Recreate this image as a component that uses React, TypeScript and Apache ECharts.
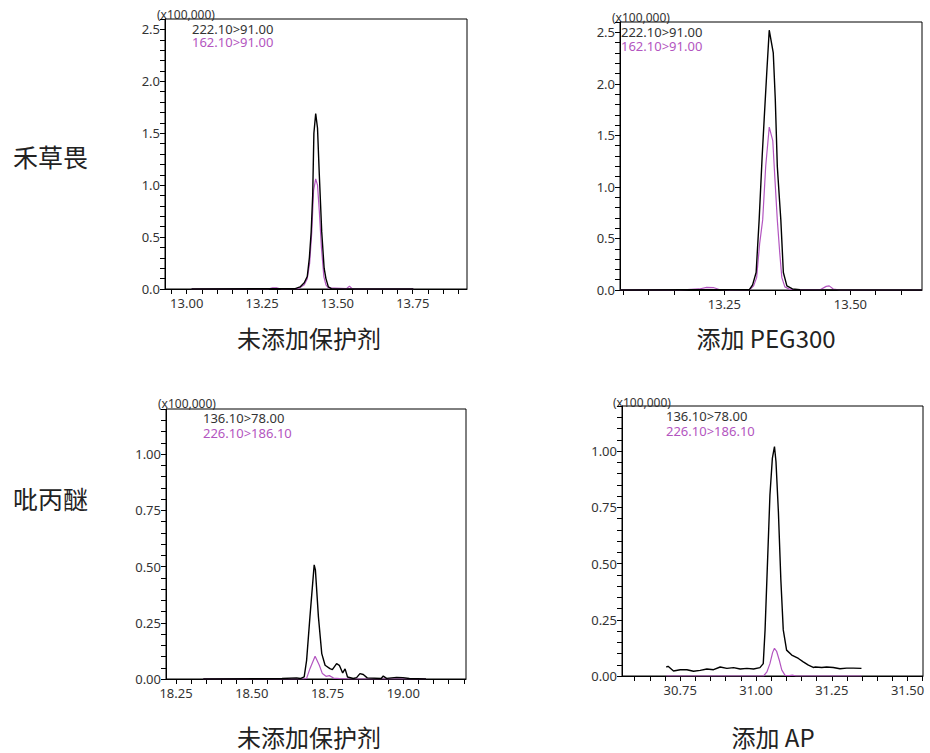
import React, { useEffect, useRef } from "react";
import * as echarts from "echarts";

// ---------- data ----------
// Panel 1: 禾草畏, 未添加保护剂
const P1_BLACK: [number, number][] = [
  [13.016, 0], [13.36, 0.003], [13.376, 0.02], [13.39, 0.06], [13.4, 0.12], [13.407, 0.3],
  [13.413, 0.55], [13.418, 0.9], [13.422, 1.5], [13.428, 1.69], [13.434, 1.55], [13.44, 1.1],
  [13.448, 0.55], [13.456, 0.2], [13.462, 0.1], [13.47, 0.02], [13.48, 0.003], [13.752, 0],
];
const P1_PURPLE: [number, number][] = [
  [13.016, 0], [13.27, 0], [13.285, 0.012], [13.3, 0.01], [13.315, 0], [13.37, 0.003],
  [13.39, 0.04], [13.4, 0.1], [13.408, 0.25], [13.415, 0.55], [13.421, 0.95], [13.428, 1.06],
  [13.434, 1.0], [13.44, 0.75], [13.447, 0.4], [13.455, 0.12], [13.462, 0.04], [13.47, 0.01],
  [13.53, 0.003], [13.54, 0.028], [13.548, 0.005], [13.56, 0], [13.752, 0],
];
// Panel 2: 禾草畏, 添加 PEG300
const P2_BLACK: [number, number][] = [
  [13.043, 0], [13.3, 0.005], [13.306, 0.05], [13.313, 0.17], [13.319, 0.68], [13.325, 1.3],
  [13.329, 1.66], [13.334, 2.1], [13.339, 2.52], [13.347, 2.3], [13.351, 1.85], [13.355, 1.2],
  [13.359, 0.9], [13.362, 0.68], [13.367, 0.17], [13.374, 0.04], [13.385, 0.01], [13.4, 0.003],
  [13.642, 0],
];
const P2_PURPLE: [number, number][] = [
  [13.043, 0], [13.12, 0.004], [13.16, 0], [13.2, 0.01], [13.215, 0.026], [13.228, 0.024],
  [13.24, 0.005], [13.26, 0], [13.3, 0.003], [13.308, 0.04], [13.314, 0.12], [13.32, 0.45],
  [13.326, 0.68], [13.332, 1.2], [13.339, 1.58], [13.346, 1.45], [13.35, 1.1], [13.355, 0.68],
  [13.36, 0.35], [13.364, 0.12], [13.37, 0.03], [13.38, 0.005], [13.44, 0.003], [13.452, 0.035],
  [13.458, 0.04], [13.466, 0.01], [13.48, 0], [13.642, 0],
];
// Panel 3: 吡丙醚, 未添加保护剂
const P3_BLACK: [number, number][] = [
  [18.34, 0], [18.6, 0.002], [18.648, 0.005], [18.66, 0.002], [18.673, 0.009], [18.681, 0.083],
  [18.692, 0.276], [18.706, 0.507], [18.71, 0.485], [18.72, 0.276], [18.731, 0.113], [18.742, 0.061],
  [18.758, 0.046], [18.766, 0.042], [18.78, 0.068], [18.789, 0.061], [18.8, 0.027], [18.808, 0.045],
  [18.816, 0.009], [18.835, 0.002], [18.846, 0.006], [18.857, 0.024], [18.868, 0.02], [18.881, 0.005],
  [18.927, 0.002], [18.934, 0.013], [18.945, 0.003], [18.978, 0.007], [18.999, 0.006], [19.02, 0.002],
  [19.075, 0],
];
const P3_PURPLE: [number, number][] = [
  [18.34, 0], [18.67, 0], [18.681, 0.003], [18.692, 0.046], [18.709, 0.101], [18.723, 0.061],
  [18.733, 0.024], [18.745, 0.012], [18.756, 0.015], [18.77, 0.004], [18.791, 0.002], [18.82, 0],
  [19.075, 0],
];
// Panel 4: 吡丙醚, 添加 AP
const P4_BLACK: [number, number][] = [
  [30.704, 0.04], [30.71, 0.043], [30.728, 0.022], [30.75, 0.028], [30.772, 0.028], [30.794, 0.021],
  [30.816, 0.025], [30.838, 0.031], [30.86, 0.028], [30.882, 0.04], [30.904, 0.034], [30.926, 0.037],
  [30.948, 0.031], [30.97, 0.034], [30.992, 0.031], [31.013, 0.037], [31.024, 0.055], [31.03, 0.205],
  [31.038, 0.504], [31.046, 0.803], [31.054, 0.967], [31.061, 1.02], [31.066, 0.952], [31.074, 0.728],
  [31.082, 0.429], [31.09, 0.205], [31.101, 0.115], [31.118, 0.093], [31.14, 0.078], [31.156, 0.063],
  [31.173, 0.048], [31.189, 0.038], [31.196, 0.04], [31.217, 0.038], [31.233, 0.04], [31.255, 0.038],
  [31.277, 0.032], [31.299, 0.035], [31.321, 0.035], [31.348, 0.034],
];
const P4_PURPLE: [number, number][] = [
  [30.704, 0], [31.025, 0], [31.036, 0.018], [31.046, 0.055], [31.055, 0.105], [31.061, 0.123],
  [31.068, 0.11], [31.077, 0.07], [31.085, 0.027], [31.096, 0.003], [31.11, 0.002], [31.12, 0.004],
  [31.13, 0.001], [31.348, 0],
];

// axis tick labels
const P1_X_LABELS = [13.0, 13.25, 13.5, 13.75];
const P2_X_LABELS = [13.25, 13.5];
const P3_X_LABELS = [18.25, 18.5, 18.75, 19.0];
const P4_X_LABELS = [30.75, 31.0, 31.25, 31.5];
const TOP_Y_LABELS = [0, 0.5, 1.0, 1.5, 2.0, 2.5];
const BOTTOM_Y_LABELS = [0, 0.25, 0.5, 0.75, 1.0];

const ROW_NAMES = ["禾草畏", "吡丙醚"];
const TITLES = ["未添加保护剂", "添加 PEG300", "未添加保护剂", "添加 AP"];
const LEGENDS = [
  ["222.10>91.00", "162.10>91.00"],
  ["222.10>91.00", "162.10>91.00"],
  ["136.10>78.00", "226.10>186.10"],
  ["136.10>78.00", "226.10>186.10"],
];
const SCALE_LABEL = "(x100,000)";

const BLACK = "#000000";
const PURPLE = "#b355c0";
const TEXT = "#333333";
const FONT = "'Noto Sans', 'Open Sans', sans-serif";
const CJK = "'Noto Sans CJK SC', sans-serif";

function ticks(min: number, max: number, step: number): number[] {
  const out: number[] = [];
  const start = Math.ceil(min / step - 1e-6);
  for (let i = start; i * step <= max + 1e-9; i++) out.push(+(i * step).toFixed(4));
  return out;
}

const PANELS = [
  { grid: { left: 165, top: 19, width: 302, height: 270 }, x: [12.928, 13.93], y: [0, 2.6], xl: P1_X_LABELS, yl: TOP_Y_LABELS, ystep: 0.1, ydec: 1, black: P1_BLACK, purple: P1_PURPLE },
  { grid: { left: 620, top: 22, width: 302, height: 268 }, x: [13.043, 13.642], y: [0, 2.6], xl: P2_X_LABELS, yl: TOP_Y_LABELS, ystep: 0.1, ydec: 1, black: P2_BLACK, purple: P2_PURPLE },
  { grid: { left: 166, top: 409, width: 300, height: 270 }, x: [18.217, 19.207], y: [0, 1.2], xl: P3_X_LABELS, yl: BOTTOM_Y_LABELS, ystep: 0.05, ydec: 2, black: P3_BLACK, purple: P3_PURPLE },
  { grid: { left: 622, top: 406, width: 301, height: 270 }, x: [30.558, 31.551], y: [0, 1.2], xl: P4_X_LABELS, yl: BOTTOM_Y_LABELS, ystep: 0.05, ydec: 2, black: P4_BLACK, purple: P4_PURPLE },
];

// text anchors: [scaleX, scaleY, legendX, legend1Y, legend2Y]
const TEXT_POS = [
  [157, 14, 192, 29, 42],
  [612, 17, 621, 32, 46],
  [158, 403, 203, 418, 433],
  [613, 402, 666, 416, 431],
];

export default function App() {
  const ref = useRef<HTMLDivElement>(null);
  useEffect(() => {
    if (!ref.current) return;
    const chart = echarts.init(ref.current, undefined, { renderer: "svg" });
    const grid: any[] = [];
    const xAxis: any[] = [];
    const yAxis: any[] = [];
    const series: any[] = [];
    const graphic: any[] = [];
    PANELS.forEach((p, i) => {
      grid.push({ ...p.grid, show: true, borderColor: "#000", borderWidth: 1, backgroundColor: "transparent" });
      xAxis.push({
        type: "value", gridIndex: i, min: p.x[0], max: p.x[1],
        axisLine: { show: true, onZero: false, lineStyle: { color: "#000", width: 1 } },
        axisTick: { show: true, inside: false, length: 5, lineStyle: { color: "#000" }, customValues: ticks(p.x[0], p.x[1], 0.05) },
        axisLabel: { show: true, margin: 7, color: TEXT, fontSize: 13, fontFamily: FONT, customValues: p.xl, formatter: (v: number) => v.toFixed(2) },
        splitLine: { show: false },
      });
      yAxis.push({
        type: "value", gridIndex: i, min: p.y[0], max: p.y[1],
        axisLine: { show: true, lineStyle: { color: "#000", width: 1 } },
        axisTick: { show: true, inside: false, length: 5, lineStyle: { color: "#000" }, customValues: ticks(p.y[0], p.y[1], p.ystep) },
        axisLabel: { show: true, margin: 5, color: TEXT, fontSize: 13, fontFamily: FONT, customValues: p.yl, formatter: (v: number) => v.toFixed(p.ydec) },
        splitLine: { show: false },
      });
      series.push({
        type: "line", xAxisIndex: i, yAxisIndex: i, data: p.purple, showSymbol: false, symbol: "none",
        lineStyle: { color: PURPLE, width: 1.2 }, z: 2,
      });
      series.push({
        type: "line", xAxisIndex: i, yAxisIndex: i, data: p.black, showSymbol: false, symbol: "none",
        lineStyle: { color: BLACK, width: 1.4 }, z: 3,
      });
      const t = TEXT_POS[i];
      graphic.push({ type: "text", x: t[0], y: t[1], style: { text: SCALE_LABEL, fill: TEXT, font: `12px ${FONT}`, lineHeight: 12, verticalAlign: "middle" } });
      graphic.push({ type: "text", x: t[2], y: t[3], style: { text: LEGENDS[i][0], fill: TEXT, font: `13px ${FONT}`, lineHeight: 12, verticalAlign: "middle" } });
      graphic.push({ type: "text", x: t[2], y: t[4], style: { text: LEGENDS[i][1], fill: PURPLE, font: `13px ${FONT}`, lineHeight: 12, verticalAlign: "middle" } });
    });
    // row names
    graphic.push({ type: "text", x: 13, y: 156, style: { text: ROW_NAMES[0], fill: "#222", font: `25px ${CJK}`, verticalAlign: "middle" } });
    graphic.push({ type: "text", x: 13, y: 498, style: { text: ROW_NAMES[1], fill: "#222", font: `25px ${CJK}`, verticalAlign: "middle" } });
    // titles
    const titlePos = [[309, 337], [766, 337], [309, 736], [773, 736]];
    TITLES.forEach((s, i) => {
      graphic.push({ type: "text", x: titlePos[i][0], y: titlePos[i][1], style: { text: s, fill: "#222", font: `24px ${CJK}`, align: "center", verticalAlign: "middle" } });
    });

    chart.setOption({ animation: false, backgroundColor: "#ffffff", grid, xAxis, yAxis, series, graphic });
    return () => chart.dispose();
  }, []);
  return <div ref={ref} style={{ position: "absolute", left: 0, top: 0, width: 930, height: 753 }} />;
}
